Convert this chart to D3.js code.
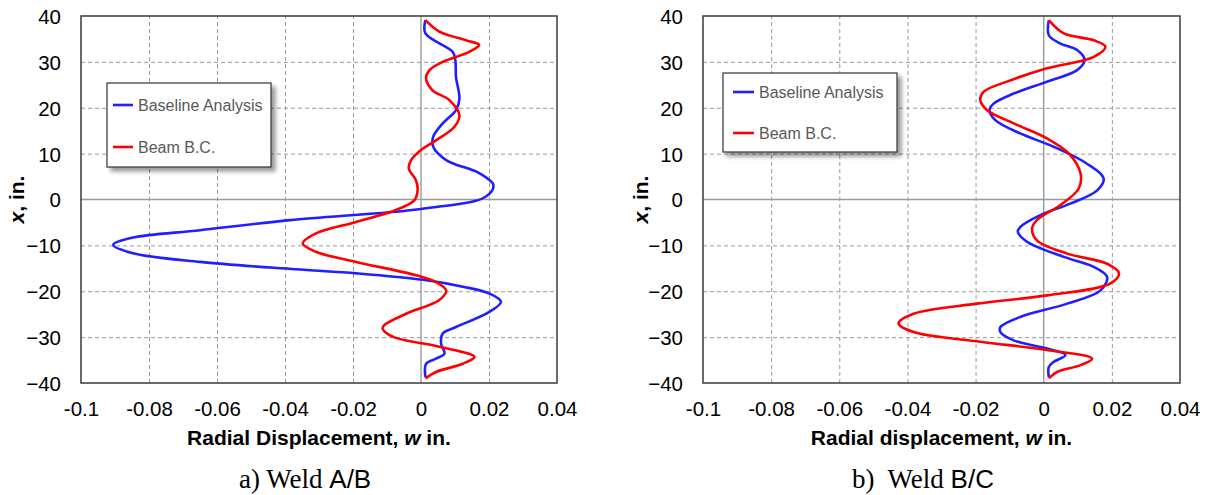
<!DOCTYPE html>
<html><head><meta charset="utf-8">
<script src="https://cdn.jsdelivr.net/npm/d3@7"></script>
<style>body{margin:0;background:#fff;} svg{display:block;}</style>
</head><body><svg id="c" width="1205" height="495"></svg>
<script>
// ---------- data ----------
const xTickValues = [-0.1, -0.08, -0.06, -0.04, -0.02, 0, 0.02, 0.04];
const xTickLabels = ["-0.1", "-0.08", "-0.06", "-0.04", "-0.02", "0", "0.02", "0.04"];
const yTickValues = [-40, -30, -20, -10, 0, 10, 20, 30, 40];
const seriesNames = ["Baseline Analysis", "Beam B.C."];

// Weld A/B, Baseline Analysis: axial position x (in.) and radial displacement w (in.)
const abBaselinePos = [39.1, 36.2, 32.2, 30.4, 26.7, 22.0, 19.5, 16.6, 13.7, 11.5, 8.6, 5.7, 3.1, 0.6, -2.0, -4.5, -6.7, -8.3, -9.9, -11.7, -13.6, -15.2, -16.1, -17.5, -19.0, -20.5, -22.3, -24.5, -27.8, -29.2, -31.4, -33.6, -34.7, -35.8, -38.7];
const abBaselineW   = [0.0013, 0.0013, 0.0093, 0.0101, 0.0103, 0.0113, 0.0103, 0.0064, 0.0036, 0.0036, 0.0074, 0.0172, 0.0213, 0.0190, 0.0005, -0.0385, -0.0650, -0.0847, -0.0905, -0.0847, -0.0650, -0.0370, -0.0189, 0.0006, 0.0123, 0.0201, 0.0235, 0.0201, 0.0103, 0.0064, 0.0059, 0.0069, 0.0044, 0.0015, 0.0013];
// Weld A/B, Beam B.C.
const abBeamPos = [39.1, 36.6, 34.7, 33.7, 32.2, 30.0, 28.2, 26.4, 23.8, 21.7, 18.4, 15.8, 12.9, 10.8, 8.6, 6.8, 4.2, 2.0, -0.2, -2.3, -4.9, -7.4, -9.6, -11.4, -13.6, -16.5, -18.0, -19.8, -21.9, -24.9, -27.4, -28.1, -29.9, -32.1, -34.3, -35.8, -37.6, -39.0];
const abBeamW   = [0.0013, 0.0054, 0.0132, 0.0171, 0.0142, 0.0064, 0.0025, 0.0015, 0.0034, 0.0083, 0.0113, 0.0098, 0.0044, 0.0000, -0.0029, -0.0036, -0.0015, -0.0010, -0.0020, -0.0074, -0.0191, -0.0309, -0.0348, -0.0309, -0.0191, -0.0015, 0.0044, 0.0074, 0.0054, -0.0044, -0.0108, -0.0113, -0.0083, 0.0054, 0.0157, 0.0123, 0.0044, 0.0013];

// Weld B/C, Baseline Analysis
const bcBaselinePos = [39.1, 35.8, 34.0, 32.6, 30.4, 28.2, 25.7, 23.1, 20.9, 19.5, 17.3, 14.4, 11.5, 7.8, 4.6, 2.0, -0.9, -3.4, -6.0, -7.0, -9.2, -12.5, -14.7, -16.9, -19.8, -22.7, -25.6, -27.8, -28.9, -30.7, -32.5, -33.9, -35.4, -36.5, -38.7];
const bcBaselineW   = [0.0015, 0.0015, 0.0049, 0.0098, 0.0120, 0.0098, 0.0010, -0.0088, -0.0147, -0.0159, -0.0142, -0.0069, 0.0029, 0.0127, 0.0176, 0.0157, 0.0078, -0.0010, -0.0069, -0.0076, -0.0049, 0.0059, 0.0147, 0.0186, 0.0167, 0.0069, -0.0069, -0.0127, -0.0127, -0.0088, 0.0010, 0.0064, 0.0029, 0.0015, 0.0015];
// Weld B/C, Beam B.C.
const bcBeamPos = [39.1, 36.2, 34.7, 33.3, 31.1, 28.6, 25.7, 23.5, 21.7, 19.5, 16.6, 13.3, 10.0, 5.7, 2.4, -1.2, -4.5, -6.3, -8.9, -11.8, -14.0, -16.1, -18.3, -20.9, -22.7, -24.9, -27.0, -28.9, -31.0, -32.8, -34.7, -36.1, -37.6, -39.0];
const bcBeamW   = [0.0015, 0.0059, 0.0147, 0.0181, 0.0147, 0.0010, -0.0108, -0.0176, -0.0186, -0.0167, -0.0088, 0.0010, 0.0074, 0.0108, 0.0103, 0.0049, -0.0020, -0.0034, -0.0020, 0.0069, 0.0186, 0.0221, 0.0196, 0.0010, -0.0196, -0.0382, -0.0426, -0.0382, -0.0186, 0.0010, 0.0142, 0.0108, 0.0039, 0.0015];

const seriesColors = ["#1f1fff", "#ff0000"];

// ---------- layout ----------
const panels = [
  { x0: 81, x1: 557, y0: 16, y1: 383, xTitle: "Radial Displacement, ", yTitleX: 24,
    caption: ["a) Weld ", "A/B"], captionX: 239,
    legend: { x: 107, y: 83, w: 164, h: 84, rows: [105, 147], lx: 113, lw: 20, tx: 138 },
    series: [[abBaselinePos, abBaselineW], [abBeamPos, abBeamW]] },
  { x0: 703, x1: 1180, y0: 16, y1: 383, xTitle: "Radial displacement, ", yTitleX: 648,
    caption: ["b)\u00a0 Weld ", "B/C"], captionX: 852,
    legend: { x: 723, y: 73, w: 174, h: 79, rows: [92, 133], lx: 733, lw: 21, tx: 759 },
    series: [[bcBaselinePos, bcBaselineW], [bcBeamPos, bcBeamW]] }
];

const svg = d3.select("#c");
const defs = svg.append("defs");
const f = defs.append("filter").attr("id", "shadow").attr("x", "-20%").attr("y", "-20%").attr("width", "150%").attr("height", "150%");
f.append("feDropShadow").attr("dx", 4).attr("dy", 4).attr("stdDeviation", 2.2)
  .attr("flood-color", "#000").attr("flood-opacity", 0.4);

const SANS = "'Liberation Sans', Arial, sans-serif";
const SERIF = "'Liberation Serif', 'Times New Roman', serif";

panels.forEach(p => {
  const x = d3.scaleLinear().domain([-0.1, 0.04]).range([p.x0, p.x1]);
  const y = d3.scaleLinear().domain([-40, 40]).range([p.y1, p.y0]);
  const g = svg.append("g");

  // dashed grid
  const gx = g.append("g").attr("transform", `translate(0,${p.y1})`)
    .call(d3.axisBottom(x).tickValues(xTickValues.filter(v => v !== 0 && v !== -0.1 && v !== 0.04))
      .tickSize(-(p.y1 - p.y0)).tickFormat(""));
  gx.select(".domain").remove();
  gx.selectAll("line").attr("stroke", "#9a9a9a").attr("stroke-dasharray", "4,3").attr("stroke-width", 1);

  const gy = g.append("g").attr("transform", `translate(${p.x0},0)`)
    .call(d3.axisLeft(y).tickValues(yTickValues.filter(v => v !== 0 && Math.abs(v) !== 40))
      .tickSize(-(p.x1 - p.x0)).tickFormat(""));
  gy.select(".domain").remove();
  gy.selectAll("line").attr("stroke", "#9a9a9a").attr("stroke-dasharray", "4,3").attr("stroke-width", 1);

  // zero lines
  g.append("line").attr("x1", x(0)).attr("x2", x(0)).attr("y1", p.y0).attr("y2", p.y1)
    .attr("stroke", "#9a9a9a").attr("stroke-width", 1.4);
  g.append("line").attr("x1", p.x0).attr("x2", p.x1).attr("y1", y(0)).attr("y2", y(0))
    .attr("stroke", "#9a9a9a").attr("stroke-width", 1.4);

  // border
  g.append("rect").attr("x", p.x0).attr("y", p.y0).attr("width", p.x1 - p.x0).attr("height", p.y1 - p.y0)
    .attr("fill", "none").attr("stroke", "#3a3a3a").attr("stroke-width", 1.5);

  // tick labels
  const ax = g.append("g").attr("transform", `translate(0,${p.y1})`)
    .call(d3.axisBottom(x).tickValues(xTickValues).tickSize(0).tickPadding(0)
      .tickFormat((d, i) => xTickLabels[i]));
  ax.select(".domain").remove();
  ax.selectAll("text").attr("y", 33).attr("dy", 0).style("font-family", SANS).style("font-size", "20.5px").attr("fill", "#000");

  const ay = g.append("g").attr("transform", `translate(${p.x0},0)`)
    .call(d3.axisLeft(y).tickValues(yTickValues).tickSize(0).tickPadding(20));
  ay.select(".domain").remove();
  ay.selectAll("text").attr("dy", "0.36em").style("font-family", SANS).style("font-size", "20.5px").attr("fill", "#000");

  // axis titles
  const xt = g.append("text").attr("x", (p.x0 + p.x1) / 2).attr("y", 445).attr("text-anchor", "middle")
    .style("font-family", SANS).style("font-size", "21px").style("font-weight", "bold").style("white-space", "pre");
  xt.append("tspan").text(p.xTitle);
  xt.append("tspan").style("font-style", "italic").text("w");
  xt.append("tspan").text(" in.");

  const yt = g.append("text").attr("transform", `translate(${p.yTitleX},${(p.y0 + p.y1) / 2}) rotate(-90)`)
    .attr("text-anchor", "middle").style("font-family", SANS).style("font-size", "21px").style("font-weight", "bold");
  yt.append("tspan").style("font-style", "italic").text("x");
  yt.append("tspan").text(", in.");

  // curves
  const line = d3.line().x(d => x(d[1])).y(d => y(d[0])).curve(d3.curveCatmullRom.alpha(0.5));
  p.series.forEach((s, i) => {
    const pts = s[0].map((v, k) => [v, s[1][k]]);
    g.append("path").attr("d", line(pts)).attr("fill", "none")
      .attr("stroke", seriesColors[i]).attr("stroke-width", 2.6).attr("stroke-linejoin", "round");
  });

  // legend
  const L = p.legend;
  g.append("rect").attr("x", L.x).attr("y", L.y).attr("width", L.w).attr("height", L.h)
    .attr("fill", "#fff").attr("stroke", "#333").attr("stroke-width", 1.2).attr("filter", "url(#shadow)");
  seriesNames.forEach((n, i) => {
    g.append("line").attr("x1", L.lx).attr("x2", L.lx + L.lw).attr("y1", L.rows[i]).attr("y2", L.rows[i])
      .attr("stroke", seriesColors[i]).attr("stroke-width", 2.6);
    g.append("text").attr("x", L.tx).attr("y", L.rows[i]).attr("dy", "0.36em")
      .style("font-family", SANS).style("font-size", "16px").attr("fill", "#595959").text(n);
  });

  // caption
  const c = svg.append("text").attr("x", p.captionX).attr("y", 488).style("font-size", "27px").style("white-space", "pre");
  c.append("tspan").style("font-family", SERIF).text(p.caption[0]);
  c.append("tspan").style("font-family", SANS).style("font-size", "26px").text(p.caption[1]);
});
</script>
</body></html>
